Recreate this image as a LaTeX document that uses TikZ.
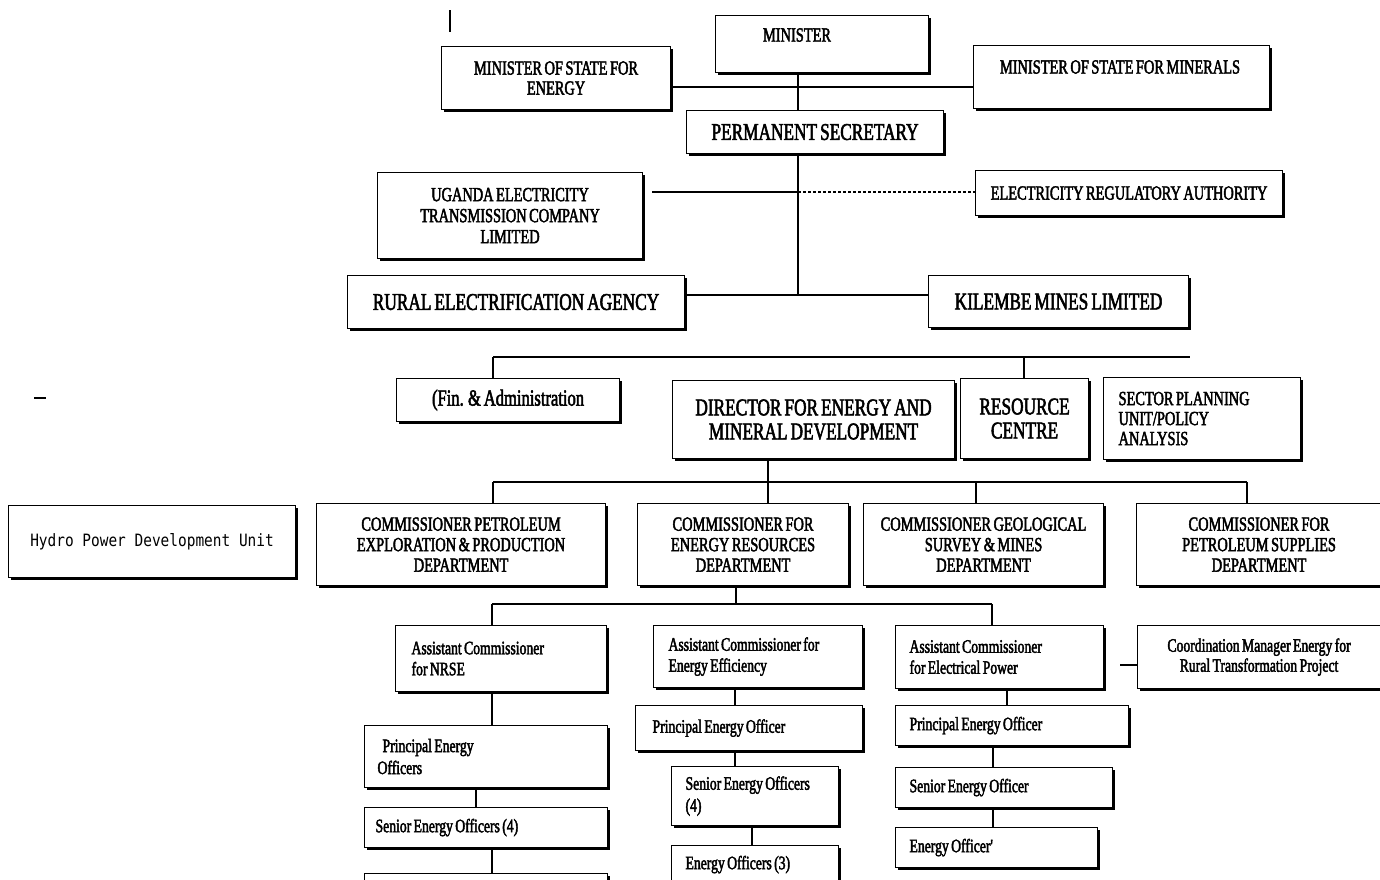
\documentclass[tikz,border=0pt]{standalone}
\usepackage{fontspec}
\setmainfont{Liberation Serif}
\newfontfamily\cf[FakeStretch=0.72,FakeBold=2.2,WordSpace={0.7,0,0}]{Liberation Serif}
\newfontfamily\hf[FakeStretch=0.85]{DejaVu Sans Mono}
\newcommand\fz[2]{\fontsize{#1}{#2}\selectfont}
\newcommand\pb[2]{\parbox{#1}{\raggedright #2}}
\usetikzlibrary{shadows,backgrounds}
\tikzset{
  box/.style={draw, line width=1.1pt, fill=white, inner sep=0pt, anchor=north west, align=center,
    drop shadow={shadow xshift=2pt, shadow yshift=-2.5pt, fill=black, opacity=1}},
  lbox/.style={box, inner xsep=#1},
  conn/.style={line width=1.3pt},
  big/.style={font=\cf\fz{24}{24}},
  mid/.style={font=\cf\fz{20}{21}},
  sml/.style={font=\cf\fz{19}{21}},
}
\begin{document}
\begin{tikzpicture}[x=1pt,y=-1pt]
\clip (0,0) rectangle (1380,879);
% ---------- top level ----------
\node[box, minimum width=213pt, minimum height=57pt] (min) at (715,15) {};
\node[font=\cf\fz{20}{21}] (mint) at (797,35) {MINISTER};
\node[box, mid, minimum width=229pt, minimum height=63pt, font=\cf\fz{20}{20}] (mose) at (441,46) {MINISTER OF STATE FOR\\ENERGY};
\node[box, minimum width=296pt, minimum height=63pt] (mosm) at (973,45) {};
\node[font=\cf\fz{20}{21}] (mosmt) at (1120,67) {MINISTER OF STATE FOR MINERALS};
\node[box, big, minimum width=257pt, minimum height=43pt] (ps) at (686,110) {PERMANENT SECRETARY};
\node[box, mid, minimum width=265pt, minimum height=86pt] (uetcl) at (377,172) {UGANDA ELECTRICITY\\TRANSMISSION COMPANY\\LIMITED};
\node[box, mid, minimum width=307pt, minimum height=45pt] (era) at (975,170) {ELECTRICITY REGULATORY AUTHORITY};
\node[box, big, minimum width=337pt, minimum height=53pt] (rea) at (347,275) {RURAL ELECTRIFICATION AGENCY};
\node[box, big, minimum width=260pt, minimum height=52pt] (kil) at (928,275) {KILEMBE MINES LIMITED};
% ---------- directorate row ----------
\node[box, minimum width=223pt, minimum height=43pt, font=\cf\fz{23}{24}] (fin) at (396,378) {(Fin. \& Administration};
\node[box, big, minimum width=282pt, minimum height=78pt] (dir) at (672,380) {DIRECTOR FOR ENERGY AND\\MINERAL DEVELOPMENT};
\node[box, big, minimum width=128pt, minimum height=80pt] (rc) at (960,378) {RESOURCE\\CENTRE};
\node[lbox=15pt, font=\cf\fz{20}{20}, minimum width=197pt, minimum height=82pt] (spu) at (1103,377) {\pb{167pt}{SECTOR PLANNING\\UNIT/POLICY\\ANALYSIS}};
% ---------- commissioners ----------
\node[box, minimum width=287pt, minimum height=72pt, font=\hf\fz{17}{18}] (hydro) at (8,505) {Hydro Power Development Unit};
\node[box, font=\cf\fz{20}{20.5}, minimum width=289pt, minimum height=82pt] (cpe) at (316,503) {COMMISSIONER PETROLEUM\\EXPLORATION \& PRODUCTION\\DEPARTMENT};
\node[box, font=\cf\fz{20}{20.5}, minimum width=211pt, minimum height=82pt] (cer) at (637,503) {COMMISSIONER FOR\\ENERGY RESOURCES\\DEPARTMENT};
\node[box, font=\cf\fz{20}{20.5}, minimum width=240pt, minimum height=82pt] (cgs) at (863,503) {COMMISSIONER GEOLOGICAL\\SURVEY \& MINES\\DEPARTMENT};
\node[box, font=\cf\fz{20}{20.5}, minimum width=245pt, minimum height=82pt] (cps) at (1136,503) {COMMISSIONER FOR\\PETROLEUM SUPPLIES\\DEPARTMENT};
% ---------- assistant commissioners ----------
\node[lbox=16pt, sml, minimum width=211pt, minimum height=66pt] (acn) at (395,625) {\pb{179pt}{Assistant Commissioner\\for NRSE}};
\node[lbox=15pt, sml, minimum width=209pt, minimum height=62pt] (ace) at (653,625) {\pb{179pt}{Assistant Commissioner for\\Energy Efficiency}};
\node[lbox=14pt, sml, minimum width=208pt, minimum height=63pt] (acp) at (895,625) {\pb{180pt}{Assistant Commissioner\\for Electrical Power}};
\node[box, font=\cf\fz{19}{20}, minimum width=243pt, minimum height=63pt] (coord) at (1137,625) {Coordination Manager Energy for\\Rural Transformation Project};
% ---------- officers ----------
\node[lbox=13pt, font=\cf\fz{19}{22}, minimum width=243pt, minimum height=62pt] (peon) at (364,725) {\pb{217pt}{\hspace*{5pt}Principal Energy\\Officers}};
\node[lbox=11pt, sml, minimum width=243pt, minimum height=40pt] (seon) at (364,807) {\pb{221pt}{Senior Energy Officers (4)}};
\node[box, minimum width=243pt, minimum height=40pt] (eon) at (364,873) {};
\node[lbox=17pt, sml, minimum width=227pt, minimum height=45pt] (peoe) at (635,705) {\pb{193pt}{Principal Energy Officer}};
\node[lbox=14pt, font=\cf\fz{19}{22}, minimum width=167pt, minimum height=59pt] (seoe) at (671,766) {\pb{139pt}{Senior Energy Officers\\(4)}};
\node[lbox=14pt, sml, minimum width=167pt, minimum height=38pt] (eoe) at (671,845) {\pb{139pt}{Energy Officers (3)}};
\node[lbox=14pt, sml, minimum width=233pt, minimum height=40pt] (peop) at (895,705) {\pb{205pt}{Principal Energy Officer}};
\node[lbox=14pt, sml, minimum width=217pt, minimum height=40pt] (seop) at (895,767) {\pb{189pt}{Senior Energy Officer}};
\node[lbox=14pt, sml, minimum width=202pt, minimum height=40pt] (eop) at (895,827) {\pb{174pt}{Energy Officer'}};
% ---------- coordinates ----------
\coordinate (t1) at (798,0);
\coordinate (h1) at (0,87);
\coordinate (j2) at (798,295);
\coordinate (ua) at (652,192);
\coordinate (h3l) at (493,357);
\coordinate (h3r) at (1190,357);
\coordinate (x3) at (1024,357);
\coordinate (h4l) at (493,482);
\coordinate (h4r) at (1247,482);
\coordinate (x4a) at (768,482);
\coordinate (x4b) at (976,482);
\coordinate (x5a) at (736,604);
\coordinate (h5l) at (492,604);
\coordinate (h5r) at (992,604);
\coordinate (c1) at (492,0);
\coordinate (c1b) at (476,0);
\coordinate (c2) at (735,0);
\coordinate (c2b) at (752,0);
\coordinate (c3) at (1007,0);
\coordinate (c3b) at (993,0);
\coordinate (cm) at (1120,665);
\coordinate (m1a) at (450,10);
\coordinate (m1b) at (450,32);
\coordinate (m2a) at (34,398);
\coordinate (m2b) at (46,398);
% ---------- connectors ----------
\begin{pgfonlayer}{background}
\draw[conn] (min.south -| t1) -- (ps.north -| t1);
\draw[conn] (mose.east |- h1) -- (mosm.west |- h1);
\draw[conn] (ps.south -| t1) -- (j2);
\draw[conn] (rea.east |- j2) -- (kil.west |- j2);
\draw[conn] (ua) -- (ua -| t1);
\draw[conn, dash pattern=on 3pt off 2pt] (ua -| t1) -- (era.west |- ua);
\draw[conn] (h3l) -- (h3r);
\draw[conn] (h3l) -- (fin.north -| h3l);
\draw[conn] (x3) -- (rc.north -| x3);
\draw[conn] (h4l) -- (h4r);
\draw[conn] (h4l) -- (cpe.north -| h4l);
\draw[conn] (dir.south -| x4a) -- (cer.north -| x4a);
\draw[conn] (x4b) -- (cgs.north -| x4b);
\draw[conn] (h4r) -- (cps.north -| h4r);
\draw[conn] (cer.south -| x5a) -- (x5a);
\draw[conn] (h5l) -- (h5r);
\draw[conn] (h5l) -- (acn.north -| h5l);
\draw[conn] (h5r) -- (acp.north -| h5r);
\draw[conn] (acn.south -| c1) -- (peon.north -| c1);
\draw[conn] (peon.south -| c1b) -- (seon.north -| c1b);
\draw[conn] (seon.south -| c1) -- (eon.north -| c1);
\draw[conn] (ace.south -| c2) -- (peoe.north -| c2);
\draw[conn] (peoe.south -| c2) -- (seoe.north -| c2);
\draw[conn] (seoe.south -| c2b) -- (eoe.north -| c2b);
\draw[conn] (acp.south -| c3) -- (peop.north -| c3);
\draw[conn] (peop.south -| c3b) -- (seop.north -| c3b);
\draw[conn] (seop.south -| c3b) -- (eop.north -| c3b);
\draw[conn] (cm) -- (coord.west |- cm);
\draw[line width=2pt] (m1a) -- (m1b);
\draw[line width=1.5pt] (m2a) -- (m2b);
\end{pgfonlayer}
\end{tikzpicture}
\end{document}
